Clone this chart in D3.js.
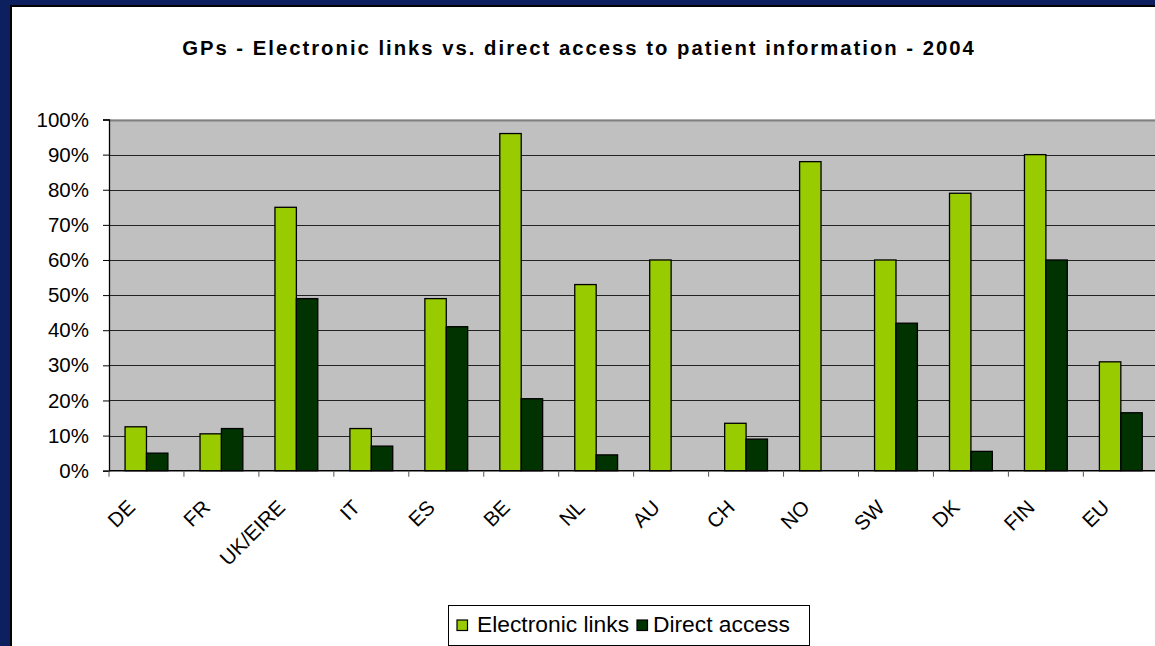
<!DOCTYPE html>
<html>
<head>
<meta charset="utf-8">
<script src="https://cdnjs.cloudflare.com/ajax/libs/d3/7.8.5/d3.min.js"></script>
<style>
  body { margin: 0; background: #0c1f5e; }
  svg { display: block; font-family: "Liberation Sans", Arial, sans-serif; }
</style>
</head>
<body>
<div id="chart"></div>
<script>
// Chart data
const categories = ['DE', 'FR', 'UK/EIRE', 'IT', 'ES', 'BE', 'NL', 'AU', 'CH', 'NO', 'SW', 'DK', 'FIN', 'EU'];
const seriesNames = ['Electronic links', 'Direct access'];
const electronicLinks = [12.5, 10.5, 75, 12, 49, 96, 53, 60, 13.5, 88, 60, 79, 90, 31];
const directAccess = [5, 12, 49, 7, 41, 20.5, 4.5, 0, 9, 0, 42, 5.5, 60, 16.5];
const yTicks = [0, 10, 20, 30, 40, 50, 60, 70, 80, 90, 100];
const colors = ['#99cc00', '#003300'];

const W = 1155, H = 646;
const plotLeft = 109, plotTop = 119.5, plotBottom = 470.7, step = 74.95;

const svg = d3.select('#chart')
  .append('svg')
  .attr('width', W)
  .attr('height', H);

// Frame: navy border with white chart sheet
svg.append('rect').attr('width', W).attr('height', H).attr('fill', '#0c1f5e');
svg.append('rect').attr('x', 10).attr('y', 5).attr('width', W).attr('height', H).attr('fill', '#000');
svg.append('rect').attr('x', 12).attr('y', 7).attr('width', W).attr('height', H).attr('fill', '#fff');

// Title
svg.append('text')
  .attr('x', 579)
  .attr('y', 55)
  .attr('text-anchor', 'middle')
  .attr('font-size', 20.3)
  .attr('font-weight', 'bold')
  .attr('letter-spacing', 2)
  .text('GPs - Electronic links vs. direct access to patient information - 2004');

// Scales
const x0 = d3.scaleBand()
  .domain(categories)
  .range([plotLeft, plotLeft + step * categories.length])
  .padding(0);
const x1 = d3.scaleBand()
  .domain(seriesNames)
  .range([0, x0.bandwidth()])
  .paddingInner(0)
  .paddingOuter(0.75);
const y = d3.scaleLinear()
  .domain([0, 100])
  .range([plotBottom, plotTop]);

// Plot area
svg.append('rect')
  .attr('x', plotLeft)
  .attr('y', plotTop)
  .attr('width', W - plotLeft + 10)
  .attr('height', plotBottom - plotTop)
  .attr('fill', '#c0c0c0');

// Gridlines
svg.append('g')
  .selectAll('line')
  .data(yTicks.filter(d => d > 0))
  .enter().append('line')
  .attr('x1', plotLeft)
  .attr('x2', W)
  .attr('y1', d => Math.round(y(d)) + 0.5)
  .attr('y2', d => Math.round(y(d)) + 0.5)
  .attr('stroke', d => d === 100 ? '#808080' : '#222')
  .attr('stroke-width', d => d === 100 ? 2 : 1);

// Bars
const table = categories.map((c, i) => ({
  cat: c,
  values: [electronicLinks[i], directAccess[i]]
}));

const groups = svg.append('g')
  .selectAll('g')
  .data(table)
  .enter().append('g')
  .attr('transform', d => `translate(${x0(d.cat)},0)`);

groups.selectAll('rect')
  .data(d => d.values.map((v, k) => ({ name: seriesNames[k], v: v, k: k })).filter(d => d.v > 0))
  .enter().append('rect')
  .attr('x', d => x1(d.name))
  .attr('width', x1.bandwidth())
  .attr('y', d => y(d.v))
  .attr('height', d => y(0) - y(d.v))
  .attr('fill', d => colors[d.k])
  .attr('stroke', '#000')
  .attr('stroke-width', 1.3);

// Y axis
const yAxis = svg.append('g')
  .attr('transform', `translate(${plotLeft},0)`)
  .call(d3.axisLeft(y).tickValues(yTicks).tickSize(6).tickPadding(14).tickFormat(d => d + '%'));
yAxis.select('.domain').attr('stroke', '#000').attr('stroke-width', 1.3);
yAxis.selectAll('.tick line').attr('stroke', '#000');
yAxis.selectAll('.tick text')
  .attr('font-size', 20.5)
  .attr('font-family', '"Liberation Sans", Arial, sans-serif')
  .attr('fill', '#000');

// X axis
const xAxis = svg.append('g')
  .attr('transform', `translate(0,${plotBottom})`);
xAxis.append('line')
  .attr('x1', plotLeft).attr('x2', W)
  .attr('stroke', '#000').attr('stroke-width', 1.5);
xAxis.selectAll('.tk')
  .data(categories)
  .enter().append('line')
  .attr('class', 'tk')
  .attr('x1', d => x0(d)).attr('x2', d => x0(d))
  .attr('y1', 0).attr('y2', 6)
  .attr('stroke', '#555');
xAxis.selectAll('.lbl')
  .data(categories)
  .enter().append('text')
  .attr('class', 'lbl')
  .attr('text-anchor', 'end')
  .attr('font-size', 20.5)
  .attr('transform', d => `translate(${x0(d) + x0.bandwidth() / 2 - 10},${38}) rotate(-45)`)
  .text(d => d);

// Legend
const legend = svg.append('g');
legend.append('rect')
  .attr('x', 448.5).attr('y', 605.5)
  .attr('width', 361).attr('height', 40)
  .attr('fill', '#fff').attr('stroke', '#000');
const legendItems = [
  { name: seriesNames[0], color: colors[0], sx: 457, tx: 477 },
  { name: seriesNames[1], color: colors[1], sx: 637, tx: 653 }
];
legend.selectAll('.sw')
  .data(legendItems)
  .enter().append('rect')
  .attr('x', d => d.sx).attr('y', 620)
  .attr('width', 10.5).attr('height', 10.5)
  .attr('fill', d => d.color).attr('stroke', '#000').attr('stroke-width', 1.2);
legend.selectAll('.lt')
  .data(legendItems)
  .enter().append('text')
  .attr('x', d => d.tx).attr('y', 632)
  .attr('font-size', 22.8)
  .text(d => d.name);
</script>
</body>
</html>
